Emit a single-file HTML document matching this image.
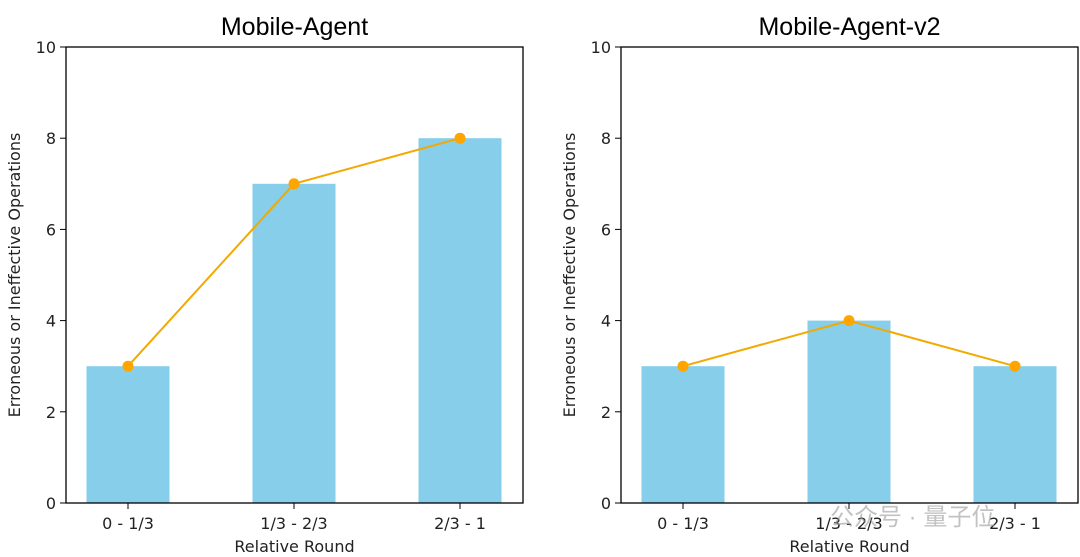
<!DOCTYPE html>
<html><head><meta charset="utf-8"><style>
body{margin:0;background:#fff;}
svg{display:block;font-family:"DejaVu Sans","Liberation Sans",sans-serif;}
</style></head><body>
<svg id="chart" width="1080" height="557" viewBox="0 0 1080 557" xmlns="http://www.w3.org/2000/svg"></svg>
<script>
const categories = ["0 - 1/3", "1/3 - 2/3", "2/3 - 1"];
const seriesMobileAgent = [3, 7, 8];
const seriesMobileAgentV2 = [3, 4, 3];
const yTicks = [0, 2, 4, 6, 8, 10];
const titles = ["Mobile-Agent", "Mobile-Agent-v2"];

const svgEl = document.getElementById('chart');
const NS = 'http://www.w3.org/2000/svg';
function mk(tag, attrs, parent){const e=document.createElementNS(NS,tag);for(const k in attrs)e.setAttribute(k,attrs[k]);parent.appendChild(e);return e;}

const plotTop=47, plotBottom=503, plotW=457;
function yScale(v){return plotBottom-(v/10)*(plotBottom-plotTop);}
function drawPanel(left, title, values, key){
  const g=mk('g',{},svgEl);
  
  
  const xScale=i=>left+62+166*i;
  values.forEach((v,i)=>{
    const b=mk('rect',{x:xScale(i)-41.5,y:yScale(v),width:83,height:plotBottom-yScale(v),fill:'#87ceeb'},g);
    
    
  });
  const pts=values.map((v,i)=>xScale(i)+','+yScale(v)).join(' ');
  const line=mk('polyline',{points:pts,fill:'none',stroke:'#f2a900','stroke-width':2},g);
  
  
  values.forEach((v,i)=>{
    const c=mk('circle',{cx:xScale(i),cy:yScale(v),r:5.5,fill:'#ffa500'},g);
    
    
  });
  const frame=mk('rect',{x:left,y:plotTop,width:plotW,height:plotBottom-plotTop,fill:'none',stroke:'#000','stroke-width':1.3},g);
  
  
  yTicks.forEach(t=>{
    mk('line',{x1:left-6,x2:left,y1:yScale(t),y2:yScale(t),stroke:'#000'},g);
    const tx=mk('text',{x:left-10,y:yScale(t)+6,'text-anchor':'end','font-size':16,fill:'#222'},g);
    tx.textContent=t;
    
    
  });
  categories.forEach((c,i)=>{
    mk('line',{x1:xScale(i),x2:xScale(i),y1:plotBottom,y2:plotBottom+6,stroke:'#000'},g);
    const tx=mk('text',{x:xScale(i),y:plotBottom+26,'text-anchor':'middle','font-size':16,fill:'#222'},g);
    tx.textContent=c;
    
    
  });
  const xt=mk('text',{x:left+plotW/2,y:552,'text-anchor':'middle','font-size':16,fill:'#222'},g);
  xt.textContent='Relative Round';
  
  
  const yx=left-46, yy=(plotTop+plotBottom)/2;
  const yt=mk('text',{x:yx,y:yy,'text-anchor':'middle','font-size':16,fill:'#222',transform:'rotate(-90 '+yx+' '+yy+')'},g);
  yt.textContent='Erroneous or Ineffective Operations';
  
  
  const tt=mk('text',{x:left+plotW/2,y:35,'text-anchor':'middle','font-size':25,fill:'#000','font-family':'"Liberation Sans",sans-serif'},g);
  tt.textContent=title;
  
  
}
drawPanel(66, titles[0], seriesMobileAgent, 'mobile-agent');
drawPanel(621, titles[1], seriesMobileAgentV2, 'mobile-agent-v2');
const wm=mk('text',{x:830,y:525,'font-size':24,fill:'#9a9a9a','fill-opacity':0.6,'font-family':'"Liberation Sans","Noto Sans CJK SC",sans-serif'},svgEl);
wm.textContent='公众号 · 量子位';


</script>
</body></html>
